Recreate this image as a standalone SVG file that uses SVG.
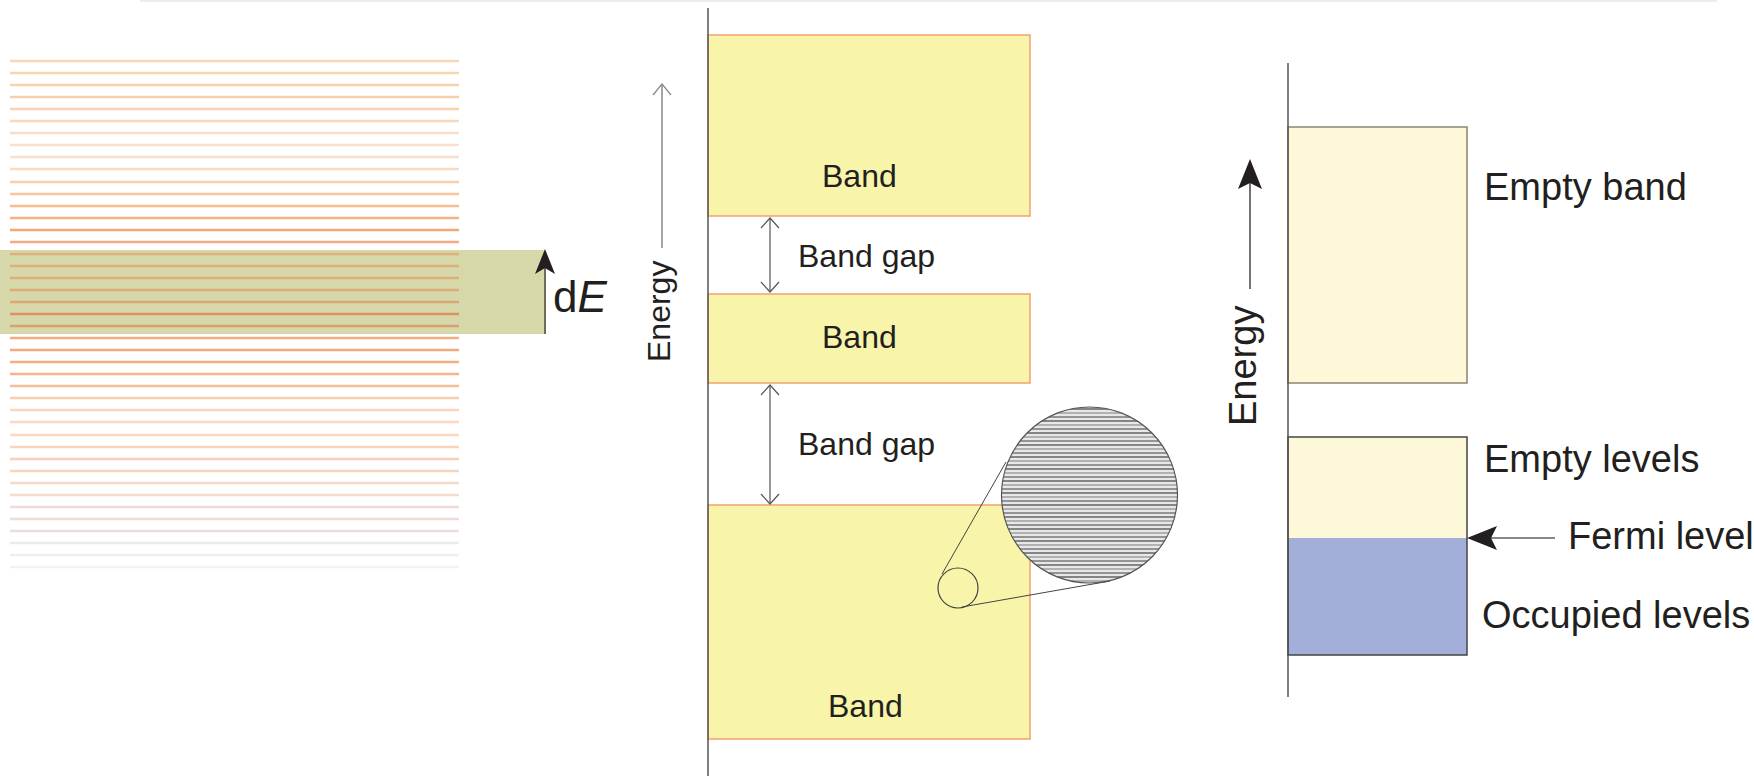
<svg xmlns="http://www.w3.org/2000/svg" width="1754" height="776" viewBox="0 0 1754 776">
<defs>
<style>
text{font-family:"Liberation Sans",Arial,sans-serif;fill:#231f20}
.mid{font-size:32px}
.rt{font-size:38px}
.band{fill:#f8f5aa;stroke:#f3a070;stroke-width:1.5}
.lv{stroke-width:2.5}
.axis{stroke:#555;stroke-width:1.5;fill:none}
.gap{stroke:#555;stroke-width:1.2;fill:none}
</style>
<marker id="chev" viewBox="-12 -10 14 20" refX="0" refY="0" markerWidth="14" markerHeight="20" markerUnits="userSpaceOnUse" orient="auto-start-reverse">
<path d="M-10,-9 L0,0 L-10,9" fill="none" stroke="#555" stroke-width="1.2"/>
</marker>
<marker id="chevG" viewBox="-12 -10 14 20" refX="0" refY="0" markerWidth="14" markerHeight="20" markerUnits="userSpaceOnUse" orient="auto">
<path d="M-11,-9 L0,0 L-11,9" fill="none" stroke="#888" stroke-width="1.2"/>
</marker>
<pattern id="hatch" width="12" height="12" patternUnits="userSpaceOnUse">
<rect width="12" height="12" fill="#e8e8e8"/>
<line x1="0" y1="1" x2="12" y2="1" stroke="#5a5a5a" stroke-width="1.4"/>
<line x1="0" y1="5" x2="12" y2="5" stroke="#999" stroke-width="1.4"/>
<line x1="0" y1="9" x2="12" y2="9" stroke="#707070" stroke-width="1.4"/>
</pattern>
</defs>
<rect width="1754" height="776" fill="#ffffff"/>
<line x1="140" y1="1" x2="1717" y2="1" stroke="#ececec" stroke-width="2"/>

<g id="energy-levels">
<rect x="0" y="250" width="545" height="84" fill="#d7d8aa"/>
<g class="lv">
<line x1="10" y1="61" x2="459" y2="61" stroke="#f9d9b5"/>
<line x1="10" y1="73" x2="459" y2="73" stroke="#f9d5ae"/>
<line x1="10" y1="85" x2="459" y2="85" stroke="#f8d2ab"/>
<line x1="10" y1="97" x2="459" y2="97" stroke="#f8cfa8"/>
<line x1="10" y1="109" x2="459" y2="109" stroke="#f9d2b0"/>
<line x1="10" y1="121" x2="459" y2="121" stroke="#fad8bd"/>
<line x1="10" y1="133" x2="459" y2="133" stroke="#fbdcc6"/>
<line x1="10" y1="145" x2="459" y2="145" stroke="#fbe0cd"/>
<line x1="10" y1="157" x2="459" y2="157" stroke="#fbdfcc"/>
<line x1="10" y1="169" x2="459" y2="169" stroke="#fadac2"/>
<line x1="10" y1="182" x2="459" y2="182" stroke="#f9cfae"/>
<line x1="10" y1="194" x2="459" y2="194" stroke="#f8c6a0"/>
<line x1="10" y1="206" x2="459" y2="206" stroke="#f7bd92"/>
<line x1="10" y1="218" x2="459" y2="218" stroke="#f5b486"/>
<line x1="10" y1="230" x2="459" y2="230" stroke="#f4a676"/>
<line x1="10" y1="242" x2="459" y2="242" stroke="#f4ac80"/>
<line x1="10" y1="254" x2="459" y2="254" stroke="#e0b17e"/>
<line x1="10" y1="266" x2="459" y2="266" stroke="#dfb07c"/>
<line x1="10" y1="278" x2="459" y2="278" stroke="#deae7a"/>
<line x1="10" y1="290" x2="459" y2="290" stroke="#ddab78"/>
<line x1="10" y1="302" x2="459" y2="302" stroke="#dca676"/>
<line x1="10" y1="314" x2="459" y2="314" stroke="#e09060"/>
<line x1="10" y1="326" x2="459" y2="326" stroke="#dca070"/>
<line x1="10" y1="338" x2="459" y2="338" stroke="#f6ac82"/>
<line x1="10" y1="350" x2="459" y2="350" stroke="#f5a87c"/>
<line x1="10" y1="362" x2="459" y2="362" stroke="#f5ae84"/>
<line x1="10" y1="374" x2="459" y2="374" stroke="#f6b48c"/>
<line x1="10" y1="386" x2="459" y2="386" stroke="#f7bd98"/>
<line x1="10" y1="398" x2="459" y2="398" stroke="#f9cdb0"/>
<line x1="10" y1="410" x2="459" y2="410" stroke="#fad6c0"/>
<line x1="10" y1="422" x2="459" y2="422" stroke="#fad8c4"/>
<line x1="10" y1="435" x2="459" y2="435" stroke="#fad8c4"/>
<line x1="10" y1="447" x2="459" y2="447" stroke="#f9d4bc"/>
<line x1="10" y1="459" x2="459" y2="459" stroke="#f8d0b8"/>
<line x1="10" y1="471" x2="459" y2="471" stroke="#f7d4c0"/>
<line x1="10" y1="483" x2="459" y2="483" stroke="#f5d8c8"/>
<line x1="10" y1="495" x2="459" y2="495" stroke="#f3dcd0"/>
<line x1="10" y1="507" x2="459" y2="507" stroke="#f0dcd4"/>
<line x1="10" y1="519" x2="459" y2="519" stroke="#eedcd6"/>
<line x1="10" y1="531" x2="459" y2="531" stroke="#ecdedc"/>
<line x1="10" y1="543" x2="459" y2="543" stroke="#ececec"/>
<line x1="10" y1="555" x2="459" y2="555" stroke="#efefef"/>
<line x1="10" y1="567" x2="459" y2="567" stroke="#f2f2f2"/>
</g>
</g>

<g id="dE">
<line x1="545" y1="334" x2="545" y2="266" stroke="#6e6e58" stroke-width="2"/>
<polygon points="545,249 555,274 545,268 535,274" fill="#231f20"/>
<text x="553" y="312" style="font-size:44px">d<tspan font-style="italic">E</tspan></text>
</g>

<g id="band-top">
<rect class="band" x="708" y="35" width="322" height="181"/>
<text class="mid" x="822" y="187">Band</text>
</g>
<g id="band-middle">
<rect class="band" x="708" y="294" width="322" height="89"/>
<text class="mid" x="822" y="348">Band</text>
</g>
<g id="band-bottom">
<rect class="band" x="708" y="505" width="322" height="234"/>
<text class="mid" x="828" y="717">Band</text>
</g>

<g id="magnifier">
<line x1="942" y1="574" x2="1006" y2="462" stroke="#444" stroke-width="1"/>
<line x1="962" y1="607" x2="1110" y2="581" stroke="#444" stroke-width="1"/>
<circle cx="958" cy="588" r="20" fill="none" stroke="#444" stroke-width="1.2"/>
<circle cx="1089.5" cy="495" r="88" fill="url(#hatch)" stroke="#555" stroke-width="1.2"/>
</g>

<g id="gap-labels">
<text class="mid" x="798" y="267">Band gap</text>
<text class="mid" x="798" y="455">Band gap</text>
</g>

<g id="energy-mid">
<text class="mid" transform="translate(670,362) rotate(-90)">Energy</text>
</g>

<g id="empty-band">
<rect x="1288" y="127" width="179" height="256" fill="#fcf8d8" stroke="#8a8670" stroke-width="1.5"/>
<text class="rt" x="1484" y="200">Empty band</text>
</g>

<g id="levels-box">
<rect x="1288" y="437" width="179" height="101" fill="#fcf8d8"/>
<rect x="1288" y="538" width="179" height="117" fill="#a3afd9"/>
<rect x="1288" y="437" width="179" height="218" fill="none" stroke="#444" stroke-width="1.5"/>
<text class="rt" x="1484" y="472">Empty levels</text>
<text class="rt" x="1482" y="628">Occupied levels</text>
<text class="rt" x="1568" y="549">Fermi level</text>
</g>

<g id="energy-right">
<text class="rt" transform="translate(1256,426) rotate(-90)">Energy</text>
</g>

<g id="connectors">
<line class="axis" x1="708" y1="8" x2="708" y2="776"/>
<line class="axis" x1="1288" y1="63" x2="1288" y2="697"/>
<line class="gap" x1="770" y1="218" x2="770" y2="292" marker-start="url(#chev)" marker-end="url(#chev)"/>
<line class="gap" x1="770" y1="385" x2="770" y2="504" marker-start="url(#chev)" marker-end="url(#chev)"/>
<line x1="662" y1="248" x2="662" y2="84" stroke="#888" stroke-width="1.5" marker-end="url(#chevG)"/>
<line x1="1250" y1="289" x2="1250" y2="180" stroke="#444" stroke-width="1.5"/>
<polygon points="1250,159 1262,189 1250,183 1238,189" fill="#231f20"/>
<line x1="1555" y1="538" x2="1490" y2="538" stroke="#888" stroke-width="2"/>
<polygon points="1467,538 1497,526 1491,538 1497,550" fill="#231f20"/>
</g>
</svg>
